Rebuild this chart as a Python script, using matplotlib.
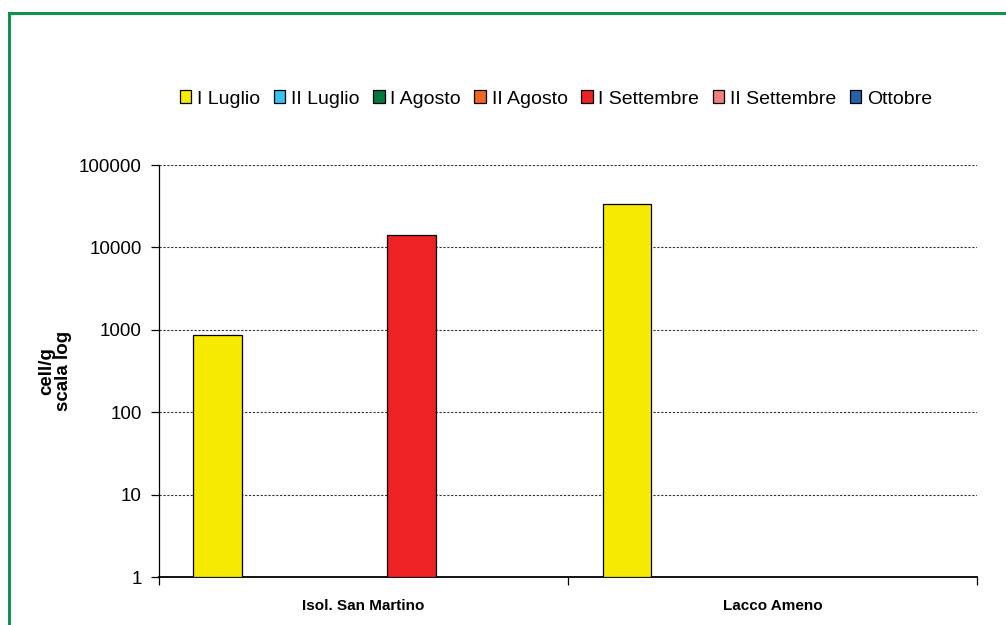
import matplotlib
matplotlib.use("Agg")
import matplotlib.pyplot as plt
import numpy as np
from matplotlib.patches import Rectangle

categories = ["Isol. San Martino", "Lacco Ameno"]
series = ["I Luglio", "II Luglio", "I Agosto", "II Agosto", "I Settembre", "II Settembre", "Ottobre"]
colors = ["#F5EA00", "#33C3EE", "#007A3D", "#F26522", "#EE2124", "#F48080", "#2462AD"]
# values per series for [Isol. San Martino, Lacco Ameno]; None = no bar
values = {
    "I Luglio": [860, 34000],
    "II Luglio": [None, None],
    "I Agosto": [None, None],
    "II Agosto": [None, None],
    "I Settembre": [14300, None],
    "II Settembre": [None, None],
    "Ottobre": [None, None],
}
yticks = [1, 10, 100, 1000, 10000, 100000]
ytick_labels = ["1", "10", "100", "1000", "10000", "100000"]

plt.rcParams['font.family'] = ['Liberation Sans', 'DejaVu Sans']

W, H = 1006, 625
fig = plt.figure(figsize=(W / 100, H / 100), dpi=100)
fig.patches.append(Rectangle((8.5 / W, -0.1), 1.2, 1 - 12.5 / H + 0.1, transform=fig.transFigure,
                             fill=False, edgecolor="#119150", linewidth=2.2))

ax = fig.add_axes([158.5 / W, 1 - 577 / H, (977 - 158.5) / W, (577 - 165) / H])
ax.set_yscale("log")
ax.set_ylim(1, 100000)
ax.set_xlim(-0.5, len(categories) - 0.5)

n = len(series)
bw = 0.1185
x = np.arange(len(categories))
for i, s in enumerate(series):
    vals = values[s]
    xs = [x[j] + (i - (n - 1) / 2) * bw for j in range(len(categories)) if vals[j] is not None]
    vs = [v for v in vals if v is not None]
    ax.bar(xs, vs, width=bw, bottom=1, color=colors[i], edgecolor="black", linewidth=0.9, zorder=3)
    # legend proxy
    ax.bar([0], [0], width=0, color=colors[i], edgecolor="black", linewidth=0.9, label=s)

ax.set_yticks(yticks)
ax.set_yticklabels(ytick_labels, fontsize=13.5)
ax.yaxis.set_minor_locator(matplotlib.ticker.NullLocator())
for yv in yticks[1:]:
    ax.axhline(yv, color="#333333", linestyle=(0, (2, 1.5)), linewidth=0.8, zorder=1)

ax.set_xticks([-0.5, 0.5, 1.5])
ax.set_xticklabels([])
ax.set_xticks(x, minor=True)
ax.set_xticklabels(categories, minor=True, fontsize=11, fontweight="bold")
ax.tick_params(axis="x", which="minor", length=0, pad=16)
ax.tick_params(axis="x", which="major", length=6, width=0.9, direction="out")
ax.tick_params(axis="y", which="major", length=6, width=0.9, direction="out", pad=6)

for side in ["top", "right"]:
    ax.spines[side].set_visible(False)
ax.spines["left"].set_linewidth(0.9)
ax.spines["bottom"].set_linewidth(1.3)

ax.set_ylabel("cell/g\nscala log", fontsize=13.5, fontweight="bold", labelpad=5, linespacing=0.95)

fig.legend(*ax.get_legend_handles_labels(), loc="center", bbox_to_anchor=(556 / W, 1 - 99 / H),
           ncol=7, frameon=False, fontsize=14, handlelength=0.6, handleheight=0.6,
           handletextpad=0.3, columnspacing=0.68, borderaxespad=0)

fig.savefig("out.png", dpi=100)
